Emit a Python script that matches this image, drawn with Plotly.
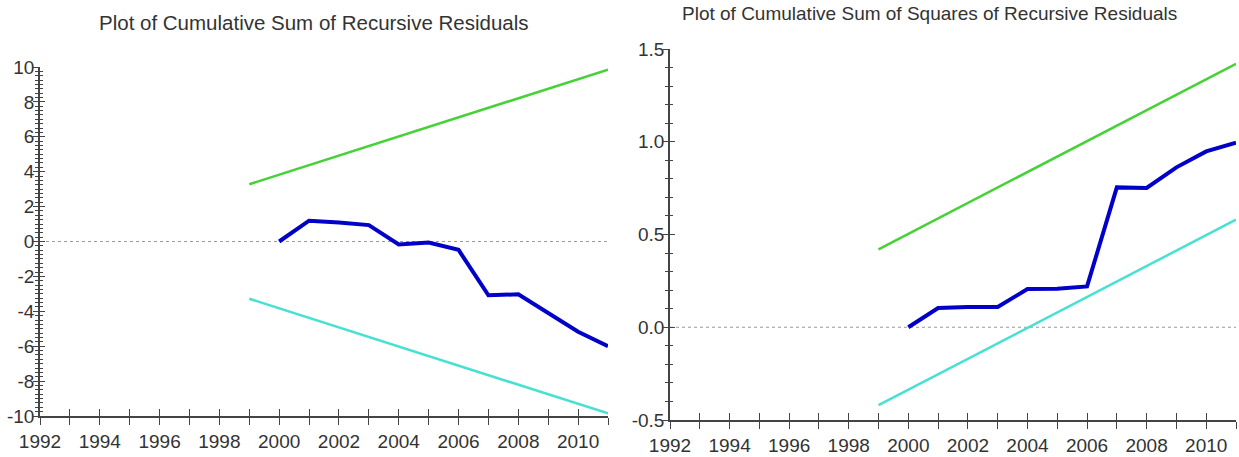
import plotly.graph_objects as go

# ---------------- data ----------------
years_resid = [2000, 2001, 2002, 2003, 2004, 2005, 2006, 2007, 2008, 2009, 2010, 2011]
cusum = [0.0, 1.19, 1.09, 0.94, -0.17, -0.06, -0.48, -3.08, -3.03, -4.10, -5.17, -6.0]
cusum_sq = [0.0, 0.104, 0.109, 0.109, 0.206, 0.208, 0.22, 0.754, 0.751, 0.862, 0.948, 0.995]

bound_years = [1999, 2011]
cusum_upper = [3.28, 9.85]
cusum_lower = [-3.28, -9.85]
cusumsq_upper = [0.42, 1.42]
cusumsq_lower = [-0.42, 0.58]

year_ticks = list(range(1992, 2012))
year_text = [str(y) if y % 2 == 0 else "" for y in year_ticks]
left_yticks = [-10, -8, -6, -4, -2, 0, 2, 4, 6, 8, 10]
left_ytext = ["-10", "-8", "-6", "-4", "-2", "0", "2", "4", "6", "8", "10"]
right_yticks = [-0.5, 0.0, 0.5, 1.0, 1.5]
right_ytext = ["-0.5", "0.0", "0.5", "1.0", "1.5"]

title_left = "Plot of Cumulative Sum of Recursive Residuals"
title_right = "Plot of Cumulative Sum of Squares of Recursive Residuals"

# ---------------- style ----------------
W, H = 1239, 457
FONT = "Liberation Sans, Arial, sans-serif"
TXT = "#333333"
AX = "#444444"
GREEN = "rgb(70,210,55)"
CYAN = "rgb(70,225,210)"
BLUE = "rgb(0,0,200)"


def px_x(p):
    return p / W


def px_y(p):
    return 1 - p / H


fig = go.Figure()

# left panel
fig.add_trace(go.Scatter(x=bound_years, y=cusum_upper, mode="lines",
                         line=dict(color=GREEN, width=2.5), xaxis="x", yaxis="y"))
fig.add_trace(go.Scatter(x=bound_years, y=cusum_lower, mode="lines",
                         line=dict(color=CYAN, width=2.5), xaxis="x", yaxis="y"))
fig.add_trace(go.Scatter(x=years_resid, y=cusum, mode="lines",
                         line=dict(color=BLUE, width=4), xaxis="x", yaxis="y"))
# right panel
fig.add_trace(go.Scatter(x=bound_years, y=cusumsq_upper, mode="lines",
                         line=dict(color=GREEN, width=2.5), xaxis="x2", yaxis="y2"))
fig.add_trace(go.Scatter(x=bound_years, y=cusumsq_lower, mode="lines",
                         line=dict(color=CYAN, width=2.5), xaxis="x2", yaxis="y2"))
fig.add_trace(go.Scatter(x=years_resid, y=cusum_sq, mode="lines",
                         line=dict(color=BLUE, width=4), xaxis="x2", yaxis="y2"))
# empty traces to anchor overlay axes (for ticks crossing the axis lines)
fig.add_trace(go.Scatter(x=[], y=[], xaxis="x3", yaxis="y3", hoverinfo="skip"))
fig.add_trace(go.Scatter(x=[], y=[], xaxis="x4", yaxis="y4", hoverinfo="skip"))

xrange = [1992, 2011]
ld_x = [px_x(40), px_x(608)]
ld_y = [px_y(416), px_y(67)]
rd_x = [px_x(670), px_x(1236)]
rd_y = [px_y(420), px_y(49)]

common_x = dict(range=xrange, tickvals=year_ticks, ticktext=year_text,
                showgrid=False, zeroline=False, showline=True, linecolor=AX,
                linewidth=1.5, tickcolor=AX, ticklen=7, tickwidth=1.3,
                automargin=False,
                tickfont=dict(family=FONT, size=19, color=TXT))
common_y = dict(showgrid=False, zeroline=False, showline=True, linecolor=AX,
                linewidth=1.5, tickcolor=AX, ticklen=5, tickwidth=1.3,
                automargin=False,
                tickfont=dict(family=FONT, size=19, color=TXT))

fig.update_layout(
    width=W, height=H,
    margin=dict(l=0, r=0, t=0, b=0, autoexpand=False),
    paper_bgcolor="white", plot_bgcolor="white",
    showlegend=False,
    xaxis=dict(common_x, domain=ld_x, anchor="y", ticks="outside"),
    yaxis=dict(common_y, domain=ld_y, anchor="x", range=[-10, 10],
               tickvals=left_yticks, ticktext=left_ytext, ticks="inside",
               minor=dict(dtick=0.25, ticks="inside", ticklen=3, tickcolor=AX, tickwidth=1)),
    xaxis2=dict(common_x, domain=rd_x, anchor="y2", ticks="outside"),
    yaxis2=dict(common_y, domain=rd_y, anchor="x2", range=[-0.5, 1.5],
                tickvals=right_yticks, ticktext=right_ytext, ticks="inside",
                minor=dict(dtick=0.1, ticks="inside", ticklen=3, tickcolor=AX, tickwidth=1)),
    # overlay axes: opposite tick direction, no labels
    xaxis3=dict(common_x, domain=ld_x, anchor="y3", overlaying="x", ticks="inside",
                showticklabels=False),
    yaxis3=dict(common_y, domain=ld_y, anchor="x3", overlaying="y", range=[-10, 10],
                tickvals=left_yticks, ticks="outside", showticklabels=False,
                minor=dict(dtick=0.25, ticks="outside", ticklen=3, tickcolor=AX, tickwidth=1)),
    xaxis4=dict(common_x, domain=rd_x, anchor="y4", overlaying="x2", ticks="inside",
                showticklabels=False),
    yaxis4=dict(common_y, domain=rd_y, anchor="x4", overlaying="y2", range=[-0.5, 1.5],
                tickvals=right_yticks, ticks="outside", showticklabels=False,
                minor=dict(dtick=0.1, ticks="outside", ticklen=3, tickcolor=AX, tickwidth=1)),
)

# dotted zero reference lines
fig.add_shape(type="line", xref="x domain", yref="y", x0=0, x1=1, y0=0, y1=0,
              line=dict(color="#999999", width=1.2, dash="dot"), layer="below")
fig.add_shape(type="line", xref="x2 domain", yref="y2", x0=0, x1=1, y0=0, y1=0,
              line=dict(color="#999999", width=1.2, dash="dot"), layer="below")

fig.add_annotation(text=title_left, xref="paper", yref="paper",
                   x=px_x(314), y=px_y(22), xanchor="center", yanchor="middle",
                   showarrow=False, font=dict(family=FONT, size=20.5, color=TXT))
fig.add_annotation(text=title_right, xref="paper", yref="paper",
                   x=px_x(930), y=px_y(1), xanchor="center", yanchor="top",
                   showarrow=False, font=dict(family=FONT, size=19, color=TXT))

fig.write_html("out.html", config={"displayModeBar": False},
               post_script="document.body.style.margin='0';")
